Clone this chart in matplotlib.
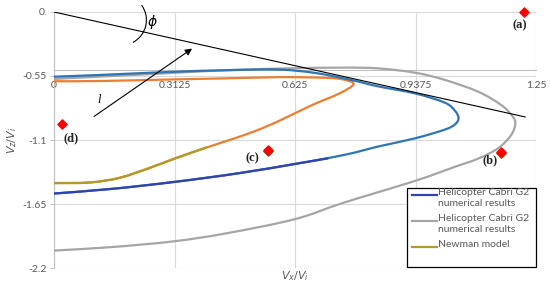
import matplotlib
matplotlib.use("Agg")
import matplotlib.pyplot as plt
import matplotlib.patches as mpatches
import matplotlib.transforms as mtransforms
from matplotlib.path import Path

# ── Colours ───────────────────────────────────────────────────────────────────
BLUE   = "#2E75B6"
DBLUE  = "#3043B0"
GRAY   = "#A5A5A5"
ORANGE = "#ED7D31"
OLIVE  = "#B09A28"
RED    = "#FF0000"
BROWN  = "#7A4A10"
TXT    = "#595959"
GRID   = "#D9D9D9"

plt.rcParams.update({
    "font.family": ["Lato", "DejaVu Sans"],
    "font.size": 7.5,
})

# ── Data ──────────────────────────────────────────────────────────────────────
x_ticks = [0, 0.3125, 0.625, 0.9375, 1.25]
x_tick_labels = ["0", "0.3125", "0.625", "0.9375", "1.25"]
y_ticks = [0, -0.55, -1.1, -1.65, -2.2]
y_tick_labels = ["0.", "-0.55", "-1.1", "-1.65", "-2.2"]

# Helicopter Cabri G2 numerical results (first series, closed loop)
blue_x = [0, 0.12, 0.3, 0.45, 0.584, 0.68, 0.772, 0.842, 0.937, 1.014,
          1.04, 1.049, 1.04, 1.014, 0.937, 0.842, 0.757, 0.635, 0.48,
          0.3125, 0.15, 0]
blue_y = [-0.556, -0.541, -0.515, -0.5, -0.495, -0.525, -0.585, -0.64, -0.7,
          -0.78, -0.85, -0.913, -0.965, -1.01, -1.085, -1.155, -1.225, -1.3,
          -1.385, -1.46, -1.52, -1.56]
# overlapping lower part (legend colour)
dblue_x = [0.71, 0.635, 0.48, 0.3125, 0.15, 0]
dblue_y = [-1.258, -1.3, -1.385, -1.46, -1.52, -1.56]

# Helicopter Cabri G2 numerical results (second series)
gray_x = [0, 0.15, 0.3, 0.45, 0.6, 0.75, 0.842, 0.937, 1.014, 1.1, 1.16,
          1.19, 1.196, 1.185, 1.152, 1.1, 1.04, 0.9375, 0.75, 0.625, 0.45,
          0.3125, 0.15, 0]
gray_y = [-0.575, -0.55, -0.525, -0.5, -0.485, -0.478, -0.485, -0.522,
          -0.584, -0.685, -0.8, -0.9, -0.965, -1.06, -1.17, -1.26, -1.33,
          -1.45, -1.64, -1.78, -1.9, -1.97, -2.02, -2.05]

# orange loop
orange_x = [0, 0.12, 0.3, 0.45, 0.584, 0.7, 0.75, 0.777, 0.74, 0.669, 0.584,
            0.52, 0.455, 0.395, 0.3125, 0.248, 0.17, 0.093, 0]
orange_y = [-0.595, -0.593, -0.58, -0.57, -0.56, -0.565, -0.58, -0.62, -0.7,
            -0.8, -0.935, -1.025, -1.1, -1.165, -1.26, -1.34, -1.425, -1.465,
            -1.47]

# Newman model
newman_x = [0.395, 0.3125, 0.248, 0.17, 0.093, 0]
newman_y = [-1.165, -1.26, -1.34, -1.425, -1.465, -1.47]

# tangent line
line_x = [0, 1.222]
line_y = [0, -0.902]

# marked points
pt_x = [1.22, 1.16, 0.555, 0.02]
pt_y = [0.0, -1.2, -1.185, -0.962]
pt_labels = ["(a)", "(b)", "(c)", "(d)"]
lbl_x = [1.209, 1.131, 0.514, 0.044]
lbl_y = [-0.11, -1.27, -1.255, -1.083]

legend_labels = ["Helicopter Cabri G2\nnumerical results",
                 "Helicopter Cabri G2\nnumerical results",
                 "Newman model"]
legend_colors = [DBLUE, GRAY, OLIVE]


def smooth_line(ax, xs, ys, color, lw=1.6, zorder=3):
    """Excel-style smoothed line: Catmull-Rom through the points as Beziers."""
    pts = list(zip(xs, ys))
    verts = [pts[0]]
    codes = [Path.MOVETO]
    n = len(pts)
    for i in range(n - 1):
        p0 = pts[i - 1] if i > 0 else pts[i]
        p1 = pts[i]
        p2 = pts[i + 1]
        p3 = pts[i + 2] if i + 2 < n else pts[i + 1]
        c1 = (p1[0] + (p2[0] - p0[0]) / 6, p1[1] + (p2[1] - p0[1]) / 6)
        c2 = (p2[0] - (p3[0] - p1[0]) / 6, p2[1] - (p3[1] - p1[1]) / 6)
        verts += [c1, c2, p2]
        codes += [Path.CURVE4] * 3
    patch = mpatches.PathPatch(Path(verts, codes), facecolor="none",
                               edgecolor=color, lw=lw, zorder=zorder,
                               capstyle="round", joinstyle="round")
    ax.add_patch(patch)
    return patch


# ── Figure ────────────────────────────────────────────────────────────────────
fig = plt.figure(figsize=(5.5, 2.94), dpi=100)
ax = fig.add_axes([0.0982, 0.0884, 0.8764, 0.8708])
ax.set_xlim(0, 1.25)
ax.set_ylim(-2.2, 0)

for s in ["top", "right"]:
    ax.spines[s].set_visible(False)
ax.spines["left"].set_color("#BFBFBF")
ax.spines["bottom"].set_color("#BFBFBF")
ax.spines["bottom"].set_position(("data", -0.5))

ax.set_xticks(x_ticks)
ax.set_xticklabels(x_tick_labels)
ax.set_yticks(y_ticks)
ax.set_yticklabels(y_tick_labels)
ax.tick_params(axis="x", length=0, pad=8, colors=TXT, labelsize=7.5)
ax.tick_params(axis="y", length=3, width=0.6, color="#BFBFBF", pad=2,
               labelcolor=TXT, labelsize=7.5)
ax.grid(True, color=GRID, linewidth=0.8, zorder=0)
ax.set_axisbelow(True)

smooth_line(ax, gray_x, gray_y, GRAY, zorder=3)
smooth_line(ax, orange_x, orange_y, ORANGE, zorder=4)
smooth_line(ax, blue_x, blue_y, BLUE, zorder=5)
smooth_line(ax, dblue_x, dblue_y, DBLUE, zorder=6)
smooth_line(ax, newman_x, newman_y, OLIVE, zorder=6)
ax.plot(line_x, line_y, color="black", lw=0.8, zorder=7)

# markers (b) and (c) have a dark one underneath
ax.scatter(pt_x[1:3], [v - 0.012 for v in pt_y[1:3]], marker="D", s=22,
           color=BROWN, zorder=8, clip_on=False)
ax.scatter(pt_x, pt_y, marker="D", s=22, color=RED, zorder=9, clip_on=False)
for lx, ly, t in zip(lbl_x, lbl_y, pt_labels):
    ax.text(lx, ly, t, ha="center", va="center", fontsize=9,
            fontweight="bold", family="Liberation Serif", color="#222222")

# phi arc + label
arc = mpatches.Arc((121, 294 - 20), 50.8, 50.8, theta1=-62, theta2=36,
                   transform=mtransforms.IdentityTransform(), color="black",
                   lw=0.8, zorder=7)
fig.add_artist(arc)
ax.text(0.256, -0.085, r"$\phi$", fontsize=10, ha="center", va="center")

# arrow l
ax.annotate("", xy=(0.364, -0.301), xytext=(0.098, -0.911),
            arrowprops=dict(arrowstyle="-|>", color="black", lw=0.8,
                            mutation_scale=10), zorder=7)
ax.text(0.116, -0.756, "l", fontsize=9, style="italic",
        family="Liberation Serif", ha="center", va="center")

# axis labels
ax.text(0.5, -0.031, r"$V_x/V_i$", transform=ax.transAxes, ha="center",
        va="center", color=TXT, fontsize=8)
ax.text(-0.087, 0.5, r"$V_z/V_i$", transform=ax.transAxes, ha="center",
        va="center", rotation=90, color=TXT, fontsize=8)

# legend drawn by hand so the sample sits on the first text line
ax.add_patch(mpatches.Rectangle((0.732, 0.004), 0.268, 0.3085,
                                transform=ax.transAxes, facecolor="white",
                                edgecolor="black", lw=0.9, zorder=10,
                                clip_on=False))
row_y = [0.285, 0.184, 0.082]
for ry, lab, c in zip(row_y, legend_labels, legend_colors):
    ax.plot([0.743, 0.795], [ry, ry], transform=ax.transAxes, color=c,
            lw=1.6, zorder=11, clip_on=False)
    ax.text(0.797, ry + 0.026, lab, transform=ax.transAxes, ha="left",
            va="top", color=TXT, fontsize=7.5, linespacing=1.3, zorder=11)

fig.savefig("out.png", dpi=100)
